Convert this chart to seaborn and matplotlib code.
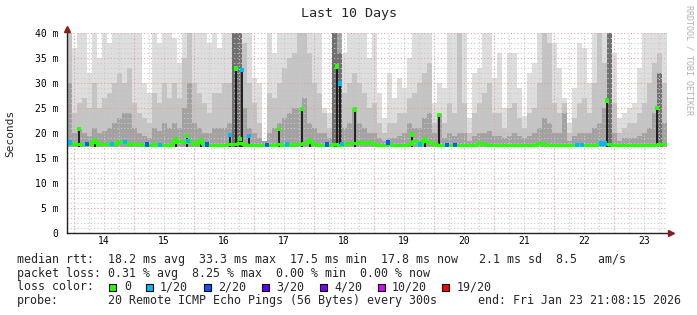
import numpy as np
import pandas as pd
import matplotlib
matplotlib.use("Agg")
import matplotlib.pyplot as plt
from matplotlib.patches import Rectangle
import seaborn as sns

# ---------------- data ----------------
t_start = 13.881   # Jan 13 21:08 (day-of-month)
t_end = 23.881     # Jan 23 21:08
smoke_floor = 17.2  # lowest ping (ms)

smoke_top = [42, 37, 42, 41, 32, 42, 35, 42, 38, 42, 40, 42, 42, 41, 40, 30, 28, 42, 38, 42,
             41, 39, 34, 42, 42, 42, 40, 42, 38, 42,
             37, 40, 40, 42, 42, 42, 42, 31, 30, 18.5, 40, 36, 42, 42, 42, 42, 42, 42, 42, 40,
             40, 25, 24, 42, 42, 36, 42, 42, 42, 40,
             35, 42, 28, 23, 32, 27, 31, 29, 35, 40, 42, 42, 42, 26, 30, 29, 42, 40, 42, 40,
             23, 32, 33, 42, 42, 31, 36, 25, 36, 36,
             29, 23.5, 32, 34, 41, 42, 42, 38, 33, 27, 22, 29, 38, 37, 30, 42, 42, 42, 42, 36,
             23, 24, 25, 26, 33, 42, 42, 42, 42, 42]
smoke_mid = [42, 24, 26, 27, 25, 30, 25, 27, 28, 30, 32, 30, 33, 26, 24, 23, 22, 28, 26, 30,
             27, 30, 27, 35, 42, 30, 28, 26, 24, 28,
             28, 30, 30, 42, 42, 38, 30, 26, 22, 18.5, 28, 27, 30, 33, 35, 36, 40, 42, 36, 30,
             28, 24, 21, 42, 42, 28, 30, 32, 30, 28,
             25, 26, 22, 20, 22, 22, 24, 24, 27, 28, 30, 32, 34, 22, 24, 22, 26, 24, 42, 26,
             20, 24, 26, 28, 30, 24, 24, 21, 25, 26,
             23, 21, 24, 25, 30, 42, 38, 26, 24, 26, 20, 23, 26, 27, 24, 30, 40, 34, 42, 26,
             20, 21, 22, 22, 24, 26, 30, 34, 36, 30]
smoke_dark = [30, 20, 21, 20, 19.5, 21, 20, 20.5, 21, 22, 23, 24, 24, 21, 20, 19.5, 19, 21, 20.5, 22,
              21, 22, 21, 25, 30, 22, 21, 20, 20, 21,
              21, 21, 22, 42, 42, 25, 21, 20, 19, 18.5, 20, 21, 22, 23, 24, 25, 25, 27, 22, 21,
              20, 20, 19, 42, 42, 21, 22, 25, 22, 21,
              20, 20, 19, 18.5, 19, 19, 19.5, 20, 22, 21, 21, 23, 24, 20, 24, 19, 20, 19.5, 20, 20,
              18.5, 19.5, 20, 20, 20.5, 19.5, 19.5, 19, 19.5, 20,
              19.5, 19, 19.5, 20, 21, 23, 22, 20, 20, 24, 18.5, 19.5, 20, 20, 20, 21, 22, 25, 42, 20,
              18.5, 19, 19, 19, 19.5, 20, 21, 24, 26, 22]
# darkest smoke cores: column index and upper value (ms)
core_col = [33, 34, 53, 54, 108, 118]
core_top = [42, 42, 42, 36, 42, 32]

median_rtt = [18.1, 17.8, 17.9, 17.8, 17.8, 18.3, 17.8, 17.8, 17.8, 17.9, 18.2, 18.2, 17.9, 17.8, 17.8,
              17.7, 17.7, 17.8, 17.7, 17.6, 17.7, 18.3, 18.4, 18.3, 18.4, 17.9, 18.3, 17.9, 17.7, 17.7,
              17.7, 17.7, 17.8, 17.8, 18.0, 17.8, 17.7, 17.6, 17.6, 17.6, 17.7, 17.7, 17.8, 17.7, 17.7,
              17.8, 17.8, 18.1, 18.2, 17.9, 17.7, 17.7, 17.7, 17.8, 17.7, 17.9, 18.1, 18.0, 18.2, 18.0,
              18.2, 17.8, 17.7, 17.7, 17.9, 17.7, 17.6, 17.6, 17.8, 18.4, 18.0, 18.5, 18.3, 17.8, 17.7,
              17.6, 17.6, 17.6, 17.6, 17.6, 17.6, 17.7, 18.1, 17.9, 17.7, 17.6, 17.6, 17.6, 17.7, 17.7,
              17.7, 17.6, 17.6, 17.6, 18.0, 17.9, 17.7, 17.6, 17.6, 17.7, 17.6, 17.6, 17.7, 17.6, 17.6,
              17.7, 17.9, 17.9, 17.8, 17.6, 17.6, 17.6, 17.6, 17.6, 17.6, 17.7, 17.7, 17.7, 17.9, 17.9]

spike_day = [14.081, 14.348, 15.698, 15.881, 16.114, 16.598, 16.698, 16.764, 16.798, 16.914, 17.414,
             17.798, 17.931, 18.381, 18.431, 18.681, 19.631, 19.848, 20.081, 22.881, 23.714]
spike_ms = [20.8, 18.6, 18.8, 19.4, 18.5, 19.6, 32.9, 18.8, 32.6, 19.4, 20.8,
            24.8, 18.6, 33.3, 29.9, 24.7, 19.7, 18.7, 23.6, 26.5, 25.0]
spike_loss = [0, 0, 0, 0, 0, 1, 0, 0, 1, 1, 0, 0, 0, 0, 1, 0, 0, 0, 0, 0, 0]

loss_day = [13.931, 14.214, 14.631, 14.848, 15.214, 15.431, 15.898, 16.214, 17.214, 17.548,
            18.214, 18.464, 19.231, 19.764, 20.214, 20.348, 22.381, 22.464, 22.781, 22.848]
loss_ms = [18.1, 17.8, 17.8, 18.2, 17.7, 17.6, 18.4, 17.7, 17.6, 17.7,
           17.7, 17.8, 18.1, 17.7, 17.6, 17.6, 17.6, 17.6, 17.9, 17.9]
loss_lvl = [1, 2, 1, 1, 2, 1, 1, 2, 2, 1, 2, 1, 2, 1, 2, 2, 1, 1, 1, 1]

day_labels = ["14", "15", "16", "17", "18", "19", "20", "21", "22", "23"]
y_ticks = [0, 5, 10, 15, 20, 25, 30, 35, 40]
y_labels = ["0", "5 m", "10 m", "15 m", "20 m", "25 m", "30 m", "35 m", "40 m"]

legend_lines = [
    "median rtt:  18.2 ms avg  33.3 ms max  17.5 ms min  17.8 ms now   2.1 ms sd  8.5   am/s",
    "packet loss: 0.31 % avg  8.25 % max  0.00 % min  0.00 % now",
]
loss_names = ["0", "1/20", "2/20", "3/20", "4/20", "10/20", "19/20"]
loss_colors = ["#26ff00", "#00b8ff", "#0059ff", "#5e00ff", "#7e00ff", "#dd00ff", "#ff0000"]
probe_text = "20 Remote ICMP Echo Pings (56 Bytes) every 300s"
end_text = "end: Fri Jan 23 21:08:15 2026"

# ---------------- style ----------------
sns.set_theme(style="white")
plt.rcParams["font.family"] = ["DejaVu Sans Mono", "DejaVu Sans"]

W, H = 697, 315
fig = plt.figure(figsize=(W / 100, H / 100), dpi=100)
fig.patch.set_facecolor("white")
ax = fig.add_axes([67 / W, 1 - 233 / H, 600 / W, 200 / H])
ax.set_facecolor("white")

n = len(smoke_top)
edges = np.linspace(t_start, t_end, n + 1)
cw = (t_end - t_start) / n


def ext(a):
    return np.append(np.asarray(a, float), a[-1])


for arr, col in [(smoke_top, "#dedede"), (smoke_mid, "#c4c4c4"), (smoke_dark, "#a2a2a2")]:
    ax.fill_between(edges, smoke_floor, ext(arr), step="post", color=col, lw=0, zorder=1)

for c, top in zip(core_col, core_top):
    ax.fill_between([edges[c] + cw * 0.05, edges[c] + cw * 0.95], smoke_floor, top,
                    color="#707070", lw=0, zorder=1.2)

# spikes (dark vertical smoke core)
ax.vlines(spike_day, smoke_floor, spike_ms, color="#151515", lw=1.3, zorder=3)

# median line
med_df = pd.DataFrame({"t": edges, "ms": ext(median_rtt)})
sns.lineplot(data=med_df, x="t", y="ms", ax=ax, color="#26ff00", lw=2.2,
             drawstyle="steps-post", estimator=None, zorder=5)

pal = {0: "#26ff00", 1: "#00b8ff", 2: "#0059ff"}
loss_df = pd.DataFrame({"t": loss_day, "ms": loss_ms, "lvl": loss_lvl})
sns.scatterplot(data=loss_df, x="t", y="ms", hue="lvl", palette=pal, marker="s", s=11,
                linewidth=0, legend=False, ax=ax, zorder=6)
spk_df = pd.DataFrame({"t": spike_day, "ms": spike_ms, "lvl": spike_loss})
sns.scatterplot(data=spk_df, x="t", y="ms", hue="lvl", palette=pal, marker="s", s=11,
                linewidth=0, legend=False, ax=ax, zorder=6)

ax.set_xlim(t_start, t_end)
ax.set_ylim(0, 40)
ax.set_xlabel("")
ax.set_ylabel("")

# x ticks: majors at midnight (red grid), minors every 6 h (gray grid), labels at noon
majors = [14 + k for k in range(10)]
minors = []
minor_lab = []
for d in range(13, 24):
    for q in (0.25, 0.5, 0.75):
        v = d + q
        if t_start < v < t_end:
            minors.append(v)
            minor_lab.append(str(d) if q == 0.5 else "")
ax.set_xticks(majors, [""] * len(majors))
ax.set_xticks(minors, minor_lab, minor=True)
ax.set_yticks(y_ticks, y_labels)
ax.set_yticks([v for v in range(0, 41) if v % 5], minor=True)

ax.tick_params(axis="x", which="both", length=0, labelsize=7, pad=2.5, colors="black")
ax.tick_params(axis="y", which="major", length=2, width=0.8, labelsize=7, pad=4, colors="black",
               direction="out")
ax.tick_params(axis="y", which="minor", length=0)

ax.set_axisbelow(False)
ax.grid(which="major", color="#e3a0a0", linestyle=(0, (1, 2)), linewidth=0.8)
ax.grid(which="minor", color="#cacaca", linestyle=(0, (1, 2)), linewidth=0.8)

for s in ("top", "right"):
    ax.spines[s].set_visible(False)
for s in ("left", "bottom"):
    ax.spines[s].set_color("#222222")
    ax.spines[s].set_linewidth(1.0)
    ax.spines[s].set_zorder(7)

# axis arrows
ax.plot([1.006], [0], marker=">", ms=4, color="#8b1a1a", transform=ax.transAxes, clip_on=False, zorder=8)
ax.plot([0], [1.02], marker="^", ms=4, color="#8b1a1a", transform=ax.transAxes, clip_on=False, zorder=8)


def fx(x):
    return x / W


def fy(y):
    return 1 - y / H


fig.text(fx(349), fy(14), "Last 10 Days", ha="center", va="center", fontsize=9.6)
fig.text(fx(10), fy(133), "Seconds", ha="center", va="center", rotation=90, fontsize=8)
fig.text(fx(689), fy(5), "RRDTOOL / TOBI OETIKER", ha="center", va="top", rotation=270,
         fontsize=6, color="#b0b0b0")

lfs = 8.35
rows = [260, 273.5, 287, 300.5]
fig.text(fx(17), fy(rows[0]), legend_lines[0], ha="left", va="center", fontsize=lfs)
fig.text(fx(17), fy(rows[1]), legend_lines[1], ha="left", va="center", fontsize=lfs)
fig.text(fx(17), fy(rows[2]), "loss color:", ha="left", va="center", fontsize=lfs)
box_x = [109, 146, 204, 262, 320, 378, 442]
lab_x = [124, 160, 218, 276, 334, 392, 457]
for bx, lx, nm, c in zip(box_x, lab_x, loss_names, loss_colors):
    fig.add_artist(Rectangle((fx(bx), fy(290.5)), 7 / W, 7 / H, transform=fig.transFigure,
                             facecolor=c, edgecolor="black", lw=0.8))
    fig.text(fx(lx), fy(rows[2]), nm, ha="left", va="center", fontsize=lfs)
fig.text(fx(17), fy(rows[3]), "probe:", ha="left", va="center", fontsize=lfs)
fig.text(fx(108), fy(rows[3]), probe_text, ha="left", va="center", fontsize=lfs)
fig.text(fx(681), fy(rows[3]), end_text, ha="right", va="center", fontsize=lfs)

fig.savefig("out.png", dpi=100, facecolor="white")
